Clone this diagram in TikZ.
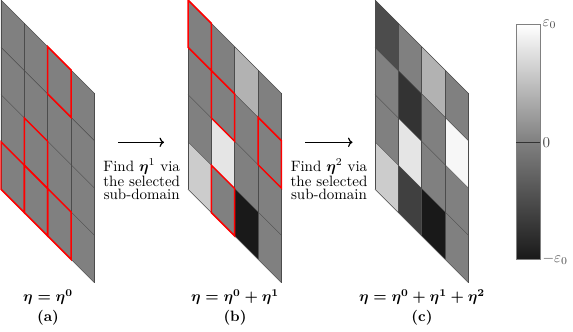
\documentclass[tikz,border=0pt]{standalone}
\usepackage{amsmath}
\usetikzlibrary{arrows.meta,positioning}

\begin{document}
\begin{tikzpicture}[
    x=0.667pt, y=-0.667pt,
    panel/.style={shift={(#1,0)}, x={(15.57pt,-15.57pt)}, y={(0pt,-31.55pt)}},
    gridline/.style={draw=black!70, line width=0.3pt},
    subdomain/.style={draw=red, line width=1pt},
    arrow/.style={-{To[length=3pt]}, line width=0.8pt},
    steptext/.style={align=center, font=\fontsize{10}{8.6}\selectfont, inner sep=0pt, anchor=base},
    caption/.style={inner sep=0pt, anchor=base, font=\boldmath},
    barlabel/.style={anchor=west, inner sep=1.5pt, text=black!70}
  ]
  \useasboundingbox (0,0) rectangle (573,332);

  % (a) initial field
  \begin{scope}[panel=1]
    \fill[black!50] (0,0) -- (4,0) -- (4,4) -- (0,4) -- cycle;
    \foreach \k in {0,...,4} {
      \draw[gridline] (\k,0) -- (\k,4);
      \draw[gridline] (0,\k) -- (4,\k);
    }
    \foreach \i/\j in {2/0, 1/2, 1/3, 0/3, 2/3}
      \draw[subdomain] (\i,\j) -- ++(1,0) -- ++(0,1) -- ++(-1,0) -- cycle;
  \end{scope}

  % (b) after first update
  \begin{scope}[panel=188]
    \fill[black!50] (0,0) -- (4,0) -- (4,4) -- (0,4) -- cycle;
    \foreach \i/\j/\c in {2/0/30, 1/2/10, 2/3/90, 0/3/20}
      \fill[black!\c] (\i,\j) -- ++(1,0) -- ++(0,1) -- ++(-1,0) -- cycle;
    \foreach \k in {0,...,4} {
      \draw[gridline] (\k,0) -- (\k,4);
      \draw[gridline] (0,\k) -- (4,\k);
    }
    \foreach \i/\j in {0/0, 1/1, 3/1, 1/3}
      \draw[subdomain] (\i,\j) -- ++(1,0) -- ++(0,1) -- ++(-1,0) -- cycle;
  \end{scope}

  % (c) after second update
  \begin{scope}[panel=375]
    \fill[black!50] (0,0) -- (4,0) -- (4,4) -- (0,4) -- cycle;
    \foreach \i/\j/\c in {2/0/30, 1/2/10, 2/3/90, 0/3/20, 0/0/70, 1/1/80, 3/1/3, 1/3/75}
      \fill[black!\c] (\i,\j) -- ++(1,0) -- ++(0,1) -- ++(-1,0) -- cycle;
    \foreach \k in {0,...,4} {
      \draw[gridline] (\k,0) -- (\k,4);
      \draw[gridline] (0,\k) -- (4,\k);
    }
  \end{scope}

  % arrows between panels
  \coordinate (stepA-start) at (118,142.3);
  \coordinate (stepA-end) at (164,142.3);
  \coordinate (stepB-start) at (305,142.3);
  \coordinate (stepB-end) at (352.5,142.3);
  \draw[arrow] (stepA-start) -- (stepA-end);
  \draw[arrow] (stepB-start) -- (stepB-end);
  \node[steptext] (findA) at (141.7,199) {Find $\boldsymbol{\eta}^1$ via\\the selected\\sub-domain};
  \node[steptext] (findB) at (329,199) {Find $\boldsymbol{\eta}^2$ via\\the selected\\sub-domain};

  % captions
  \node[caption] (etaA) at (48,301.7) {$\eta=\eta^0$};
  \node[caption] (tagA) at (48,321.7) {\textbf{(a)}};
  \node[caption] (etaB) at (235,301.7) {$\eta=\eta^0+\eta^1$};
  \node[caption] (tagB) at (235,321.7) {\textbf{(b)}};
  \node[caption] (etaC) at (422,301.7) {$\eta=\eta^0+\eta^1+\eta^2$};
  \node[caption] (tagC) at (422,321.7) {\textbf{(c)}};

  % colour bar
  \shade[top color=white, bottom color=black!50] (516,24.3) rectangle (540,142.3);
  \shade[top color=black!50, bottom color=black!90] (516,142.3) rectangle (540,259.3);
  \draw[black!50, line width=0.4pt] (516,24.3) rectangle (540,259.3);
  \draw[black!80, line width=0.5pt] (516,142.3) -- (540,142.3);
  \node[barlabel] (barTop) at (540,24.3) {$\varepsilon_0$};
  \node[barlabel] (barMid) at (540,142.3) {$0$};
  \node[barlabel] (barBot) at (540,259.3) {$-\varepsilon_0$};
\end{tikzpicture}
\end{document}
